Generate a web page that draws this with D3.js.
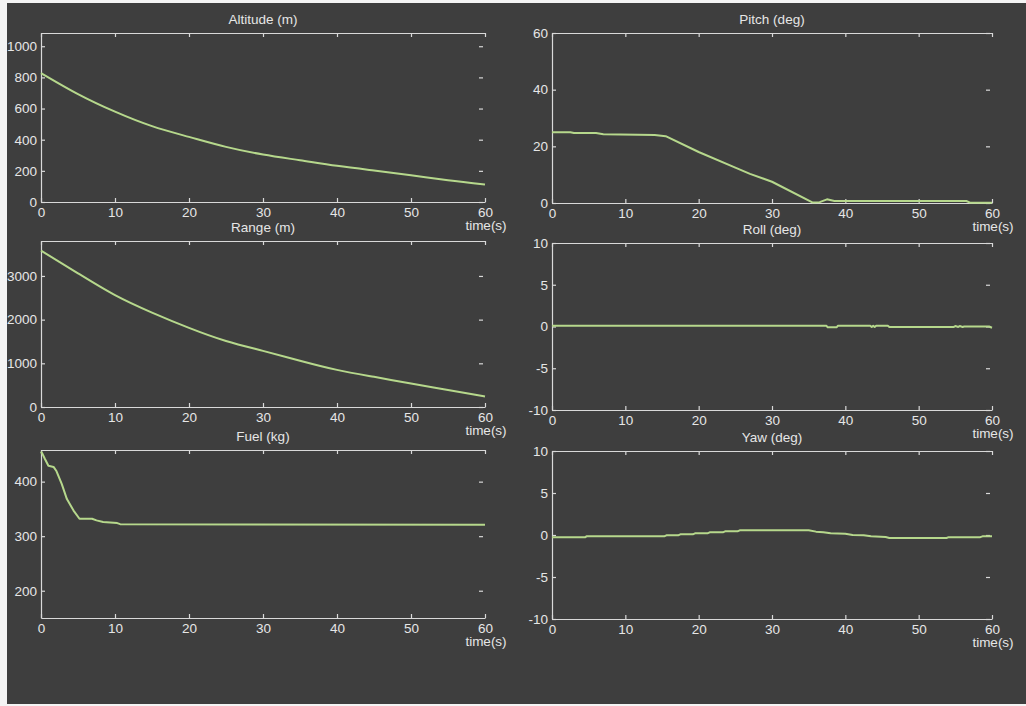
<!DOCTYPE html>
<html>
<head>
<meta charset="utf-8">
<title>Flight telemetry</title>
<script src="https://d3js.org/d3.v7.min.js"></script>
<style>
body { margin: 0; background: #ffffff; }
.axis path, .axis line { stroke: #d9d9d9; stroke-width: 1.2px; }
.axis text, .lbl { fill: #e6e6e6; font-family: "Liberation Sans", Arial, sans-serif; font-size: 13.5px; }
.trace { fill: none; stroke: #b6d88c; stroke-width: 2px; stroke-linejoin: round; }
</style>
</head>
<body>
<script>
// data
var timeGrid = [0, 5, 10, 15, 20, 25, 30, 35, 40, 45, 50, 55, 60];
var altitude = [828, 693, 580, 487, 418, 354, 305, 268, 232, 202, 172, 140, 112];
var range = [3580, 3060, 2560, 2160, 1810, 1510, 1285, 1060, 850, 690, 537, 390, 240];

var fuelTime = [0, 0.2, 0.55, 1.0, 1.7, 2.1, 2.8, 3.5, 4.4, 5.2, 6.9, 7.5, 8.4, 10.3, 10.7, 60];
var fuel = [455, 451, 441, 429, 427, 419, 396, 368, 347, 332, 332, 329, 326, 324, 322, 321];

var pitchTime = [0, 2.5, 3, 6, 7, 14, 15.5, 20, 25, 27, 30, 35.5, 36.5, 37.5, 38.5, 56.5, 57, 60];
var pitch = [25, 25, 24.7, 24.7, 24.3, 24, 23.6, 18, 12.5, 10.3, 7.5, 0.2, 0.3, 1.3, 0.7, 0.7, 0.1, 0.1];

var rollTime = [0, 37.4, 37.6, 38.8, 39, 43.4, 43.6, 43.8, 44, 44.2, 45.8, 46, 54.8, 55, 55.4, 55.6, 56, 56.2, 59.6, 60];
var roll = [0.1, 0.1, -0.1, -0.1, 0.1, 0.1, -0.05, 0.1, -0.05, 0.1, 0.1, -0.05, -0.05, 0.05, -0.05, 0.05, -0.05, 0, 0, -0.15];

var yawTime = [0, 4.5, 4.7, 15.3, 15.6, 17.2, 17.5, 19.2, 19.5, 21.2, 21.5, 23.3, 23.6, 25.3, 25.6, 35, 36, 37, 38, 40, 41, 42.5, 43.5, 45.5, 46, 53.8, 54.1, 58.4, 58.7, 60];
var yaw = [-0.28, -0.28, -0.16, -0.16, -0.04, -0.04, 0.08, 0.08, 0.2, 0.2, 0.32, 0.32, 0.44, 0.44, 0.56, 0.56, 0.4, 0.32, 0.2, 0.16, 0, -0.04, -0.16, -0.24, -0.36, -0.36, -0.26, -0.26, -0.16, -0.16];

var xTicks = [0, 10, 20, 30, 40, 50, 60];
var altTicks = [0, 200, 400, 600, 800, 1000];
var rangeTicks = [0, 1000, 2000, 3000];
var fuelTicks = [200, 300, 400];
var pitchTicks = [0, 20, 40, 60];
var attTicks = [-10, -5, 0, 5, 10];

var width = 1026, height = 706;
var svg = d3.select("body").append("svg")
    .attr("width", width)
    .attr("height", height);

// scanned paper edge, then the dark figure background
svg.append("rect").attr("width", width).attr("height", height).attr("fill", "#f4f4f4");
svg.append("rect").attr("x", 7).attr("y", 3).attr("width", width - 7).attr("height", 701).attr("fill", "#3e3e3e");

var cols = [[41, 485], [552, 992]];
var rows = [
  [[33, 202], [241, 407], [450, 618]],
  [[33, 203], [243, 410], [451, 619]]
];

var panels = [
  { title: "Altitude (m)", t: timeGrid, v: altitude, dom: [0, 1085], ticks: altTicks, c: 0, r: 0, smooth: true },
  { title: "Range (m)", t: timeGrid, v: range, dom: [0, 3800], ticks: rangeTicks, c: 0, r: 1, smooth: true },
  { title: "Fuel (kg)", t: fuelTime, v: fuel, dom: [150, 458], ticks: fuelTicks, c: 0, r: 2 },
  { title: "Pitch (deg)", t: pitchTime, v: pitch, dom: [0, 60], ticks: pitchTicks, c: 1, r: 0 },
  { title: "Roll (deg)", t: rollTime, v: roll, dom: [-10, 10], ticks: attTicks, c: 1, r: 1 },
  { title: "Yaw (deg)", t: yawTime, v: yaw, dom: [-10, 10], ticks: attTicks, c: 1, r: 2 }
];

// plain numbers with an ascii minus, like MATLAB prints them
var plain = function(d) { return String(d); };

panels.forEach(function(p) {
  var x0 = cols[p.c][0], x1 = cols[p.c][1];
  var y0 = rows[p.c][p.r][0], y1 = rows[p.c][p.r][1];
  var x = d3.scaleLinear().domain([0, 60]).range([x0, x1]);
  var y = d3.scaleLinear().domain(p.dom).range([y1, y0]);
  var g = svg.append("g");

  // MATLAB style box: ticks point inwards, no right spine
  g.append("g").attr("class", "axis")
      .attr("transform", "translate(0," + y1 + ")")
      .call(d3.axisBottom(x).tickValues(xTicks).tickFormat(plain).tickSize(-4).tickSizeOuter(0).tickPadding(5));
  g.append("g").attr("class", "axis")
      .attr("transform", "translate(0," + y0 + ")")
      .call(d3.axisTop(x).tickValues(xTicks).tickSize(-4).tickSizeOuter(0).tickFormat(""));
  g.append("g").attr("class", "axis")
      .attr("transform", "translate(" + x0 + ",0)")
      .call(d3.axisLeft(y).tickValues(p.ticks).tickFormat(plain).tickSize(-4).tickSizeOuter(0).tickPadding(4));
  var right = g.append("g").attr("class", "axis")
      .attr("transform", "translate(" + (x1 - 2) + ",0)")
      .call(d3.axisRight(y).tickValues(p.ticks).tickSize(-4).tickFormat(""));
  right.select(".domain").remove();
  g.selectAll(".axis text").attr("fill", null);

  g.append("text").attr("class", "lbl")
      .attr("x", (x0 + x1) / 2).attr("y", y0 - 9.5)
      .attr("text-anchor", "middle")
      .text(p.title);
  g.append("text").attr("class", "lbl")
      .attr("x", x1 + 1).attr("y", y1 + 28)
      .attr("text-anchor", "middle")
      .text("time(s)");

  var line = d3.line()
      .x(function(d, i) { return x(p.t[i]); })
      .y(function(d) { return y(d); });
  if (p.smooth) line.curve(d3.curveNatural);
  g.append("path").attr("class", "trace").attr("d", line(p.v));
});
</script>
</body>
</html>
